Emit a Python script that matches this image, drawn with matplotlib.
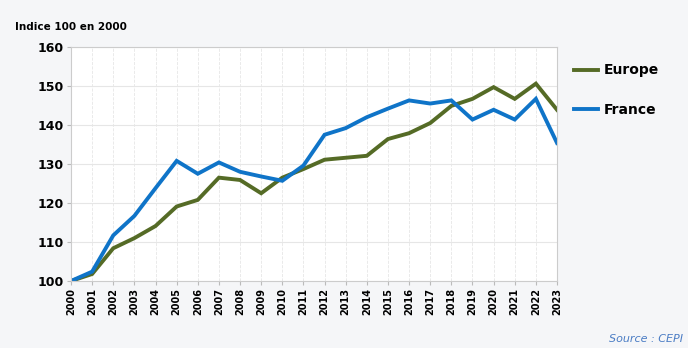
import numpy as np
import matplotlib.pyplot as plt

###########################################################
# data

years = list(range(2000, 2024))
europe = [100, 101.8, 108.4, 111.0, 114.1, 119.1, 120.8, 126.5, 125.9, 122.5,
          126.5, 128.7, 131.1, 131.6, 132.1, 136.4, 137.9, 140.5, 144.9, 146.7,
          149.7, 146.7, 150.6, 143.9]
france = [100, 102.4, 111.7, 116.7, 123.8, 130.8, 127.5, 130.4, 128.0, 126.8,
          125.7, 129.6, 137.5, 139.2, 142.0, 144.2, 146.3, 145.5, 146.3, 141.4,
          143.9, 141.4, 146.7, 135.4]
yticks = [100, 110, 120, 130, 140, 150, 160]

###########################################################
# plot

bg = '#f5f6f8'
fig = plt.figure(figsize=(6.88, 3.48), dpi=100, facecolor=bg)
ax = fig.add_axes([0.1032, 0.1925, 0.7064, 0.6725])
ax.set_facecolor('white')

ax.plot(years, europe, color='#556b26', lw=2.8, label='Europe', solid_joinstyle='miter')
ax.plot(years, france, color='#0f74c8', lw=2.8, label='France', solid_joinstyle='miter')

ax.set_xlim(2000, 2023)
ax.set_ylim(100, 160)
ax.set_yticks(yticks)
ax.set_xticks(years)
ax.set_xticklabels([str(y) for y in years], rotation=90, fontsize=7, fontweight='bold')
ax.set_yticklabels([str(v) for v in yticks], fontsize=9, fontweight='bold')

ax.grid(axis='y', color='#e6e6e6', lw=0.8)
ax.grid(axis='x', color='#e6e6e6', lw=0.6, ls='--')
ax.set_axisbelow(True)
for s in ax.spines.values():
    s.set_color('#cccccc')
    s.set_linewidth(0.8)
ax.tick_params(axis='both', length=3, color='#bbbbbb', pad=2)

fig.text(0.022, 0.922, 'Indice 100 en 2000', fontsize=7.5, fontweight='bold', va='center')
fig.text(0.993, 0.026, 'Source : CEPI', fontsize=8, style='italic', color='#4a7cc4',
         ha='right', va='center')

ax.legend(loc='upper left', bbox_to_anchor=(1.01, 0.983), frameon=False,
          prop={'weight': 'bold', 'size': 10}, handlelength=1.7, handletextpad=0.4,
          labelspacing=1.85)

plt.savefig('out.png', dpi=100, facecolor=bg)
